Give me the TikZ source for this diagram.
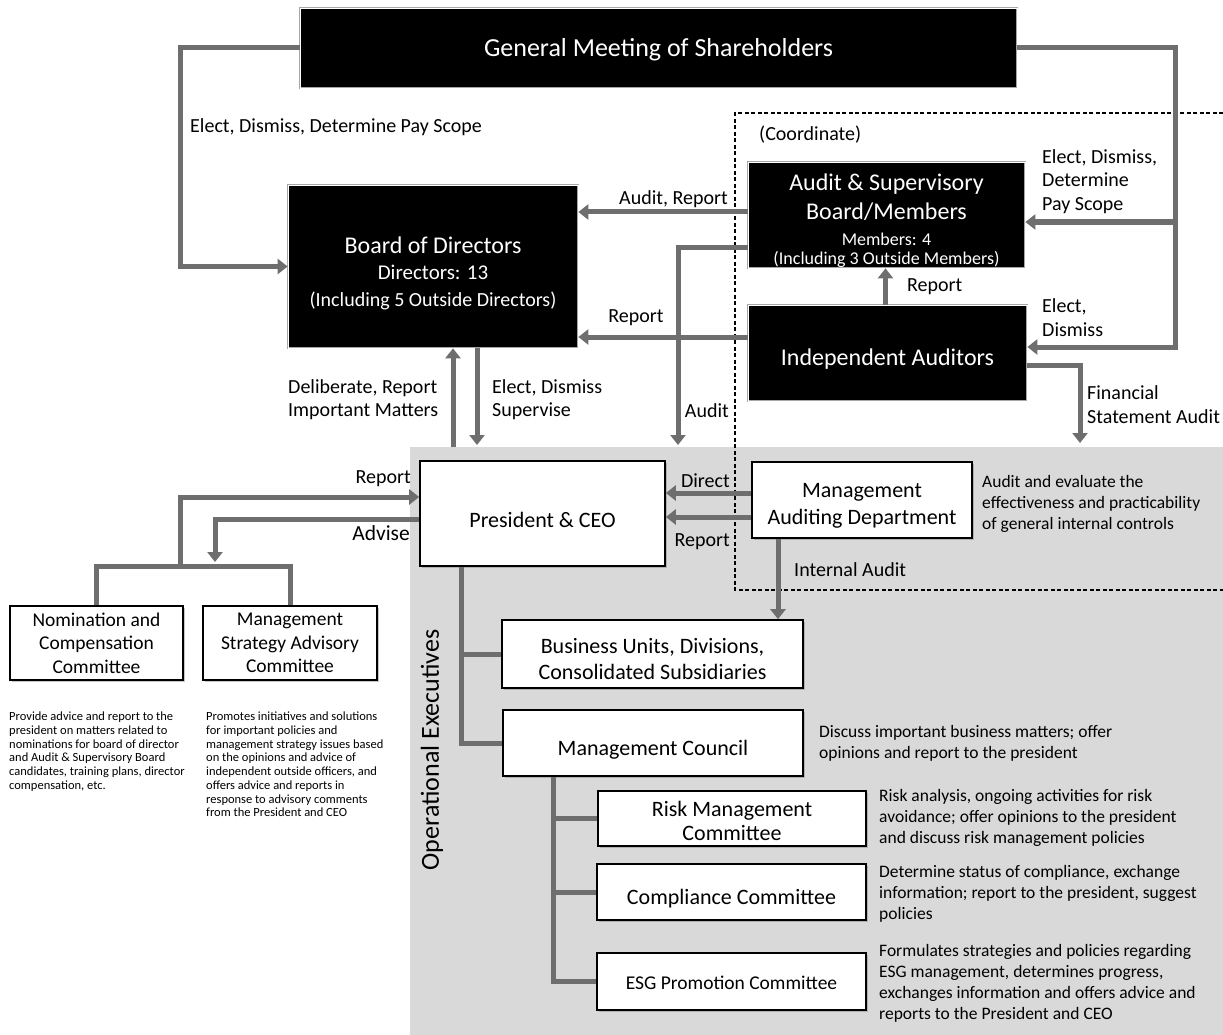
\documentclass[tikz,border=0pt]{standalone}
\usepackage{fontspec}
\setmainfont{Carlito}
\usetikzlibrary{arrows.meta,shadows}
\definecolor{linegray}{HTML}{6E6E6E}
\definecolor{areagray}{HTML}{D9D9D9}
\newcommand{\fs}[2]{\fontsize{#1}{#2}\selectfont}
\newcommand{\topgap}[1]{\rule{0pt}{#1}}
\tikzset{
  darkbox/.style={draw=gray!70, double=white, double distance=0.8pt, line width=0.7pt,
    fill=black, text=white, align=center, inner sep=0pt},
  whitebox/.style={draw=black, fill=white, line width=1.6pt, align=center, inner sep=0pt,
    drop shadow={shadow xshift=2pt, shadow yshift=-2pt, opacity=0.45}},
  conn/.style={draw=linegray, line width=5pt},
  arr/.style={conn, -{Triangle[width=15pt,length=10pt]}},
  lbl/.style={font=\fs{20}{23.5}, align=left, inner sep=0pt},
  desc/.style={font=\fs{17.5}{21}, align=left, inner sep=0pt},
}
\begin{document}
\begin{tikzpicture}[x=1pt,y=-1pt]
        \useasboundingbox (0,0) rectangle (1223,1035);
        % Operational area
        \fill[areagray] (410,447) rectangle (1223,1035);
        % Audit group
        \draw[black, line width=1.3pt, dash pattern=on 4pt off 2.5pt]
            (1223,113) -- (735,113) -- (735,590) -- (1223,590);

        % Top level
        \node[darkbox, minimum width=717, minimum height=80, font=\fs{26}{30}] (gm) at (658.5,48)
            {\topgap{21pt}General Meeting of Shareholders};
        \node[darkbox, minimum width=290, minimum height=163, font=\fs{24}{26.5}] (bod) at (433,266.5)
            {\fs{24}{26.5}\topgap{30pt}Board of Directors\\\fs{21}{26.5}Directors: 13\\\fs{20}{26.5}(Including 5 Outside Directors)};
        \node[darkbox, minimum width=277, minimum height=106, font=\fs{24}{29}] (asb) at (886.5,215)
            {\fs{24}{29}\topgap{28pt}Audit \& Supervisory\\\fs{24}{29}Board/Members\\[-3pt]\fs{18}{29}Members: 4\\[-10pt]\fs{18}{29}(Including 3 Outside Members)};
        \node[darkbox, minimum width=279, minimum height=96, font=\fs{24}{28}] (ia) at (887.5,353)
            {\topgap{28pt}Independent Auditors};

        % Executives
        \node[whitebox, minimum width=245, minimum height=105, font=\fs{22}{26}] (ceo) at (542.5,513.5)
            {\topgap{28.5pt}President \& CEO};
        \node[whitebox, minimum width=220, minimum height=76, font=\fs{22}{27}] (mad) at (862,500)
            {\topgap{26.5pt}Management\\Auditing Department};
        \node[whitebox, minimum width=301, minimum height=68, font=\fs{22}{26}] (bu) at (652.5,654)
            {\topgap{24.5pt}Business Units, Divisions,\\Consolidated Subsidiaries};
        \node[whitebox, minimum width=300, minimum height=66, font=\fs{22}{26}] (mc) at (653,743)
            {\topgap{29pt}Management Council};
        \node[whitebox, minimum width=268, minimum height=55, font=\fs{22}{24}] (rmc) at (732,818.5)
            {\topgap{20pt}Risk Management\\Committee};
        \node[whitebox, minimum width=269, minimum height=56, font=\fs{22}{26}] (cc) at (731.5,892)
            {\topgap{28.5pt}Compliance Committee};
        \node[whitebox, minimum width=269, minimum height=57, font=\fs{19.5}{24}] (esg) at (731.5,981.5)
            {\topgap{16pt}ESG Promotion Committee};

        % Advisory committees
        \node[whitebox, minimum width=173, minimum height=74, font=\fs{19.5}{23.5}] (ncc) at (96.5,643)
            {Nomination and\\Compensation\\Committee};
        \node[whitebox, minimum width=174, minimum height=74, font=\fs{19.5}{23.5}] (msac) at (290,643)
            {Management\\Strategy Advisory\\Committee};

        % Free ends
        \coordinate (gmL) at (180,48);
        \coordinate (gmR) at (1175,48);
        \coordinate (auditEnd) at (678,445);
        \coordinate (finEnd) at (1080,443);
        \coordinate (deliStart) at (453,447);
        \coordinate (electEnd) at (477,445);
        \coordinate (comBar) at (180,566);
        \coordinate (adviseEnd) at (215,562);

        % Shareholders
        \draw[arr] (gm.west) -- (gmL) |- (bod.west);
        \draw[arr] (gm.east) -- (gmR) |- ([yshift=6pt]ia.east);
        \draw[arr] ([yshift=-7pt]asb.east -| gmR) -- ([yshift=-7pt]asb.east);

        % Audit lines
        \draw[arr] ([yshift=3pt]asb.west) -- ([yshift=3pt]asb.west -| bod.east);
        \draw[arr] ([yshift=-32pt]asb.west) -| (auditEnd);
        \draw[arr] ([yshift=16pt]ia.west) -- ([yshift=16pt]ia.west -| bod.east);
        \draw[arr] ([xshift=-2pt]ia.north) -- ([xshift=-2pt]ia.north |- asb.south);
        \draw[arr] ([yshift=-12pt]ia.east) -| (finEnd);

        % Board and executives
        \draw[arr] (deliStart) -- (deliStart |- bod.south);
        \draw[arr] (bod.south -| electEnd) -- (electEnd);
        \draw[arr] ([yshift=7pt]mad.west) -- ([yshift=7pt]mad.west -| ceo.east);
        \draw[arr] ([yshift=-17pt]mad.west) -- ([yshift=-17pt]mad.west -| ceo.east);
        \draw[arr] ([xshift=-84pt]mad.south) -- ([xshift=-84pt]mad.south |- bu.north);
        \draw[conn] ([xshift=-81.5pt]ceo.south) |- (mc.west);
        \draw[conn] ([xshift=-81.5pt]ceo.south |- bu.west) -- (bu.west);
        \draw[conn] ([xshift=-100pt]mc.south) |- (esg.west);
        \draw[conn] ([xshift=-100pt]mc.south |- rmc.west) -- (rmc.west);
        \draw[conn] ([xshift=-100pt]mc.south |- cc.west) -- (cc.west);

        % Committees
        \draw[conn] (ncc.north) |- (comBar) -| (msac.north);
        \draw[arr] (comBar) |- ([yshift=16.5pt]ceo.west);
        \draw[arr] ([yshift=-5.5pt]ceo.west) -| (adviseEnd);

        % Connector labels
        \node[lbl, anchor=west] (lElect) at (190,127) {Elect, Dismiss, Determine Pay Scope};
        \node[lbl, anchor=west] (lCoord) at (759,135) {(Coordinate)};
        \node[lbl, anchor=west] (lElectAsb) at (1042,181.5) {Elect, Dismiss,\\Determine\\Pay Scope};
        \node[lbl, anchor=west] (lElectIa) at (1042,317.5) {Elect,\\Dismiss};
        \node[lbl, anchor=east] (lAuditRep) at (728,199) {Audit, Report};
        \node[lbl] (lRepBod) at (636,318) {Report};
        \node[lbl, anchor=west] (lRepAsb) at (907,287) {Report};
        \node[lbl, anchor=west] (lFin) at (1087,404.5) {Financial\\Statement Audit};
        \node[lbl, anchor=east] (lAudit) at (729,411) {Audit};
        \node[lbl, anchor=west] (lDeli) at (288,399.5) {Deliberate, Report\\Important Matters};
        \node[lbl, anchor=west] (lSuper) at (492,399.5) {Elect, Dismiss\\Supervise};
        \node[lbl, anchor=east] (lDirect) at (730,481) {Direct};
        \node[lbl, anchor=east] (lRepCeo) at (730,542) {Report};
        \node[lbl, anchor=west] (lInt) at (794,570) {Internal Audit};
        \node[lbl, anchor=east] (lRepCom) at (411,479) {Report};
        \node[lbl, anchor=east, font=\fs{21.5}{24}] (lAdvise) at (410,533) {Advise};
        \node[lbl, rotate=90, font=\fs{26}{30}] (lOpEx) at (432,750) {Operational Executives};

        % Descriptions
        \node[desc, anchor=west] (dMad) at (982,504)
            {Audit and evaluate the\\effectiveness and practicability\\of general internal controls};
        \node[desc, anchor=west] (dMc) at (819,743)
            {Discuss important business matters; offer\\opinions and report to the president};
        \node[desc, anchor=west] (dRmc) at (879,818)
            {Risk analysis, ongoing activities for risk\\avoidance; offer opinions to the president\\and discuss risk management policies};
        \node[desc, anchor=west] (dCc) at (879,893.5)
            {Determine status of compliance, exchange\\information; report to the president, suggest\\policies};
        \node[desc, anchor=west] (dEsg) at (879,983)
            {Formulates strategies and policies regarding\\ESG management, determines progress,\\exchanges information and offers advice and\\reports to the President and CEO};
        \node[desc, anchor=north west, font=\fs{12.5}{13.7}] (dNcc) at (9,712)
            {Provide advice and report to the\\president on matters related to\\nominations for board of director\\and Audit \& Supervisory Board\\candidates, training plans, director\\compensation, etc.};
        \node[desc, anchor=north west, font=\fs{12.5}{13.7}] (dMsac) at (206,712)
            {Promotes initiatives and solutions\\for important policies and\\management strategy issues based\\on the opinions and advice of\\independent outside officers, and\\offers advice and reports in\\response to advisory comments\\from the President and CEO};
    \end{tikzpicture}
\end{document}
